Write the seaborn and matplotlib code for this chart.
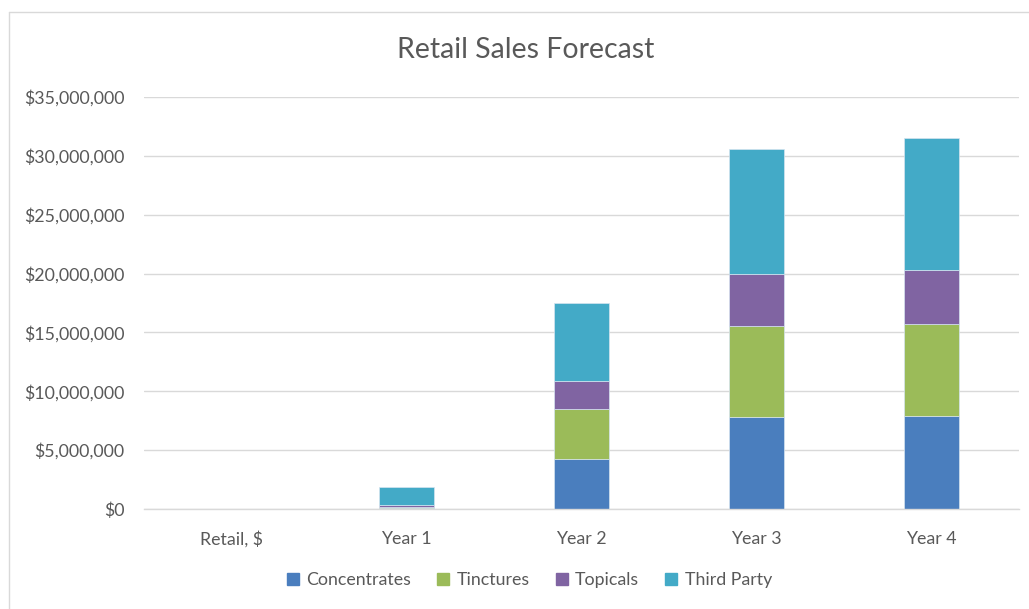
import matplotlib
matplotlib.use("Agg")
import matplotlib.pyplot as plt
import seaborn as sns
import pandas as pd
import numpy as np
from matplotlib.lines import Line2D
from matplotlib.ticker import FuncFormatter

categories = ["Retail, $", "Year 1", "Year 2", "Year 3", "Year 4"]
series_names = ["Concentrates", "Tinctures", "Topicals", "Third Party"]
concentrates = [0, 60000, 4270000, 7790000, 7900000]
tinctures = [0, 140000, 4230000, 7760000, 7790000]
topicals = [0, 150000, 2400000, 4440000, 4590000]
third_party = [0, 1530000, 6630000, 10620000, 11240000]
colors = ["#4A7EBE", "#9BBB59", "#8064A2", "#43AAC7"]
yticks = [0, 5000000, 10000000, 15000000, 20000000, 25000000, 30000000, 35000000]

sns.set_theme(style="white")
plt.rcParams['font.family'] = ['Lato', 'DejaVu Sans']

W, H = 1029, 609
fig = plt.figure(figsize=(W/100, H/100), dpi=100)
ax = fig.add_axes([144/W, 1-509/H, (1019-144)/W, (509-97)/H])

values = [concentrates, tinctures, topicals, third_party]
bottom = np.zeros(len(categories))
for name, vals, col in zip(series_names, values, colors):
    df = pd.DataFrame({"cat": categories, "val": vals})
    sns.barplot(data=df, x="cat", y="val", color=col, saturation=1, width=0.31,
                bottom=bottom, ax=ax, edgecolor="#D6E4F0", linewidth=0.5,
                label=name, errorbar=None)
    bottom = bottom + np.array(vals)

ax.set_ylim(0, 35000000)
ax.set_xlim(-0.5, 4.5)
ax.set_yticks(yticks)
ax.yaxis.set_major_formatter(FuncFormatter(lambda v, p: "${:,.0f}".format(v)))
ax.grid(axis="y", color="#D9D9D9", linewidth=1)
ax.set_axisbelow(True)
for s in ["left", "right", "top"]:
    ax.spines[s].set_visible(False)
ax.spines["bottom"].set_color("#D9D9D9")
ax.spines["bottom"].set_linewidth(1)
ax.tick_params(axis="both", length=0, labelsize=12.8, colors="#595959")
ax.tick_params(axis="y", pad=14)
ax.tick_params(axis="x", pad=16)
ax.set_xlabel("")
ax.set_ylabel("")
if ax.get_legend():
    ax.get_legend().remove()

fig.text(526/W, 1-50/H, "Retail Sales Forecast", ha="center", va="center",
         fontsize=20.5, color="#595959")

handles = [Line2D([0], [0], marker="s", linestyle="", markersize=8.5,
                  markerfacecolor=c, markeredgecolor=c) for c in colors]
fig.legend(handles, series_names, loc="center", bbox_to_anchor=(529/W, 1-580/H),
           ncol=4, frameon=False, fontsize=12.8, labelcolor="#595959",
           handlelength=0.8, handletextpad=0.35, columnspacing=1.4)

fig.add_artist(Line2D([8.5/W, 8.5/W], [0, 1-12/H], color="#D9D9D9", linewidth=1,
                      transform=fig.transFigure))
fig.add_artist(Line2D([8.5/W, 1], [1-12/H, 1-12/H], color="#D9D9D9", linewidth=1,
                      transform=fig.transFigure))

fig.savefig("out.png", dpi=100, facecolor="white")
